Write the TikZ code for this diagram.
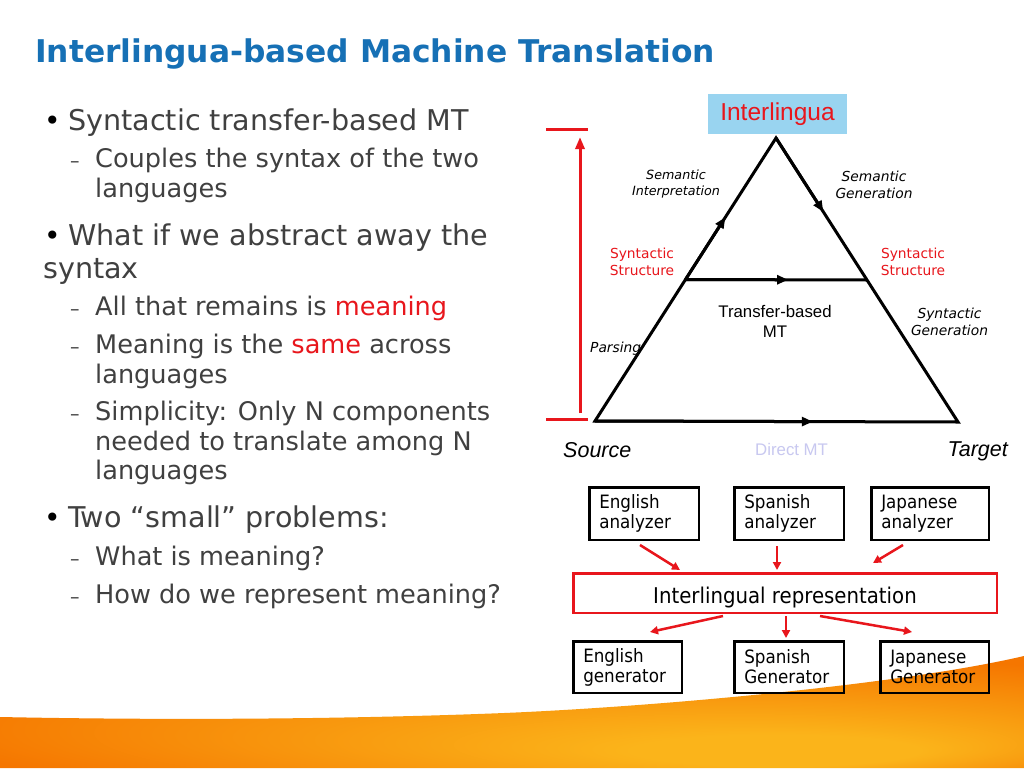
\documentclass[tikz,border=0pt]{standalone}
\usepackage{fontspec}
\setmainfont{DejaVu Sans}
\newfontfamily\arialfont{Liberation Sans}
\newfontfamily\narrowfont[FakeStretch=0.91]{DejaVu Sans}
\usetikzlibrary{calc, arrows.meta}

\definecolor{titleblue}{RGB}{22,112,181}
\definecolor{bodygrey}{RGB}{64,64,64}
\definecolor{slidered}{RGB}{232,22,28}
\definecolor{boxblue}{RGB}{153,212,240}
\definecolor{directgrey}{RGB}{200,200,240}
\definecolor{sworange}{RGB}{245,118,0}
\definecolor{swyellow}{RGB}{251,180,26}

\pgfdeclareradialshading{swoosh}{\pgfpoint{15bp}{-20bp}}{%
  color(0bp)=(swyellow); color(7bp)=(swyellow); color(34bp)=(sworange); color(50bp)=(sworange)}

\begin{document}
\begin{tikzpicture}[x=1pt, y=-1pt,
  slidetitle/.style={anchor=base west, inner sep=0pt, text=titleblue,
    font=\bfseries\fontsize{31.3}{36}\selectfont},
  lvlone/.style={anchor=base west, inner sep=0pt, text=bodygrey,
    font=\fontsize{28.6}{34}\selectfont},
  lvltwo/.style={anchor=base west, inner sep=0pt, text=bodygrey,
    font=\fontsize{25.6}{30}\selectfont},
  bulletmark/.style={anchor=base west, inner sep=0pt, font=\fontsize{28}{34}\selectfont},
  dashmark/.style={anchor=base west, inner sep=0pt, text=bodygrey,
    font=\fontsize{19}{22}\selectfont},
  edgelabel/.style={anchor=base, inner sep=0pt, align=center,
    font=\itshape\fontsize{13.8}{17}\selectfont},
  synlabel/.style={anchor=base, inner sep=0pt, align=center, text=slidered,
    font=\fontsize{13.8}{17}\selectfont},
  cornerlabel/.style={inner sep=0pt, font=\arialfont\itshape\fontsize{21.5}{26}\selectfont},
  tri/.style={line width=3pt, line join=miter},
  triarrow/.style={line width=3pt, -{Triangle[length=11pt, width=9pt]}},
  langbox/.style={draw, line width=2.5pt, align=left, inner xsep=10pt,
    font=\narrowfont\fontsize{18.4}{20}\selectfont},
  redarrow/.style={draw=slidered, line width=2.5pt,
    -{Triangle[length=8pt, width=8pt]}, slidered},
]
\useasboundingbox (0,0) rectangle (1024,768);
\fill[white] (0,0) rectangle (1024,768);

% Orange swoosh at the bottom
\shade[shading=swoosh] (0,717) .. controls (200,721) and (380,718) .. (504,713)
  .. controls (650,707) and (900,685) .. (1024,656)
  -- (1024,768) -- (0,768) -- cycle;

% Title
\node[slidetitle] (title) at (35,63) {Interlingua-based Machine Translation};

% Bullet list
\node[bulletmark] at (44,130) {•};
\node[lvlone] (b1) at (68,130) {Syntactic transfer-based MT};
\node[dashmark] at (70,167) {–};
\node[lvltwo] (b1a) at (95,167) {Couples the syntax of the two};
\node[lvltwo] at (95,197) {languages};
\node[bulletmark] at (44,245) {•};
\node[lvlone] (b2) at (68,245) {What if we abstract away the};
\node[lvlone] at (43,278) {syntax};
\node[dashmark] at (70,315) {–};
\node[lvltwo] (b2a) at (95,315) {All that remains is \textcolor{slidered}{meaning}};
\node[dashmark] at (70,353) {–};
\node[lvltwo] (b2b) at (95,353) {Meaning is the \textcolor{slidered}{same} across};
\node[lvltwo] at (95,383) {languages};
\node[dashmark] at (70,420) {–};
\node[lvltwo] (b2c) at (95,420) {Simplicity: Only N components};
\node[lvltwo] at (95,450) {needed to translate among N};
\node[lvltwo] at (95,479) {languages};
\node[bulletmark] at (44,527) {•};
\node[lvlone] (b3) at (68,527) {Two “small” problems:};
\node[dashmark] at (70,565) {–};
\node[lvltwo] (b3a) at (95,565) {What is meaning?};
\node[dashmark] at (70,603) {–};
\node[lvltwo] (b3b) at (95,603) {How do we represent meaning?};

% Triangle corners
\coordinate (src) at (595,421);
\coordinate (tgt) at (958,422);
\coordinate (apex) at (776,138);
\coordinate (synl) at ($(src)!0.5!(apex)$);
\coordinate (synr) at ($(tgt)!0.5!(apex)$);
% Draw triangle
\draw[tri] (src) -- (apex) -- (tgt) -- cycle;
\draw[tri] (synl) -- (synr);
% Arrows on the sides
\draw[triarrow] (synl) -- ($(synl)!0.44!(apex)$);
\draw[triarrow] (apex) -- ($(apex)!0.52!(synr)$);
\draw[triarrow] (synl) -- ($(synl)!0.565!(synr)$);
\draw[triarrow] (src) -- ($(src)!0.6!(tgt)$);

% Red level bar
\coordinate (bartop) at (580,129);
\coordinate (barbot) at (580,419);
\draw[slidered, line width=3pt] ($(bartop)+(-34,0)$) -- ($(bartop)+(8,0)$);
\draw[slidered, line width=3pt] ($(barbot)+(-34,0)$) -- ($(barbot)+(8,0)$);
\draw[slidered, line width=3pt, -{Triangle[length=12pt, width=9pt]}]
  ($(barbot)+(0,-6)$) -- ($(bartop)+(0,8)$);

% Labels of the triangle
\node[fill=boxblue, minimum width=139pt, minimum height=40pt, inner sep=0pt,
  text=slidered, font=\arialfont\fontsize{24.5}{28}\selectfont]
  (inter) at (777.5,114) {Interlingua};
\node[edgelabel, font=\itshape\fontsize{12.7}{16}\selectfont] (semint) at (676,195) {Semantic\\Interpretation};
\node[edgelabel] (semgen) at (874,198) {Semantic\\Generation};
\node[synlabel] (synstl) at (642,275) {Syntactic\\Structure};
\node[synlabel] (synstr) at (913,275) {Syntactic\\Structure};
\node[anchor=base, inner sep=0pt, align=center,
  font=\arialfont\fontsize{16.8}{20}\selectfont] (transfer) at (775,337) {Transfer-based\\MT};
\node[edgelabel] (syngen) at (949.5,335) {Syntactic\\Generation};
\node[edgelabel, anchor=base west] (parsing) at (590,352) {Parsing};
\node[cornerlabel, anchor=base west] (source) at (563,457) {Source};
\node[cornerlabel, anchor=base east] (target) at (1008,456) {Target};
\node[anchor=base west, inner sep=0pt, text=directgrey,
  font=\arialfont\fontsize{16.8}{20}\selectfont] (direct) at (755,455) {Direct MT};

% Analyzers, interlingual representation and generators
\node[langbox, text width=89.5pt, minimum height=52.5pt] (enga) at (644,513.5) {English\\analyzer};
\node[langbox, text width=89.5pt, minimum height=52.5pt] (spana) at (789,513.5) {Spanish\\analyzer};
\node[langbox, text width=97.5pt, minimum height=52.5pt] (japa) at (930,513.5) {Japanese\\analyzer};
\node[draw=slidered, line width=2.5pt, minimum width=423.5pt, minimum height=39.5pt,
  text height=20pt, text depth=0pt, inner sep=0pt,
  font=\narrowfont\fontsize{21.7}{24}\selectfont] (ir) at (785,593) {Interlingual representation};
\node[langbox, text width=88.5pt, minimum height=51.5pt] (engg) at (627.5,667) {English\\generator};
\node[langbox, text width=89.5pt, minimum height=51.5pt] (spang) at (789,667) {Spanish\\Generator};
\node[langbox, text width=88.5pt, minimum height=51.5pt] (japg) at (934.5,667) {Japanese\\Generator};

\draw[redarrow] ($(enga.south)+(-4,4)$) -- ($(ir.north)+(-105,-2)$);
\draw[redarrow] ($(spana.south)+(-12,5)$) -- ($(ir.north)+(-8,-2)$);
\draw[redarrow] ($(japa.south)+(-27,4)$) -- ($(ir.north)+(88,-9)$);
\draw[redarrow] ($(ir.south)+(-62,2)$) -- ($(engg.north)+(22.5,-8)$);
\draw[redarrow] ($(ir.south)+(1,2)$) -- ($(spang.north)+(-3,-2)$);
\draw[redarrow] ($(ir.south)+(35,2)$) -- ($(japg.north)+(-22.5,-8)$);
\end{tikzpicture}
\end{document}
